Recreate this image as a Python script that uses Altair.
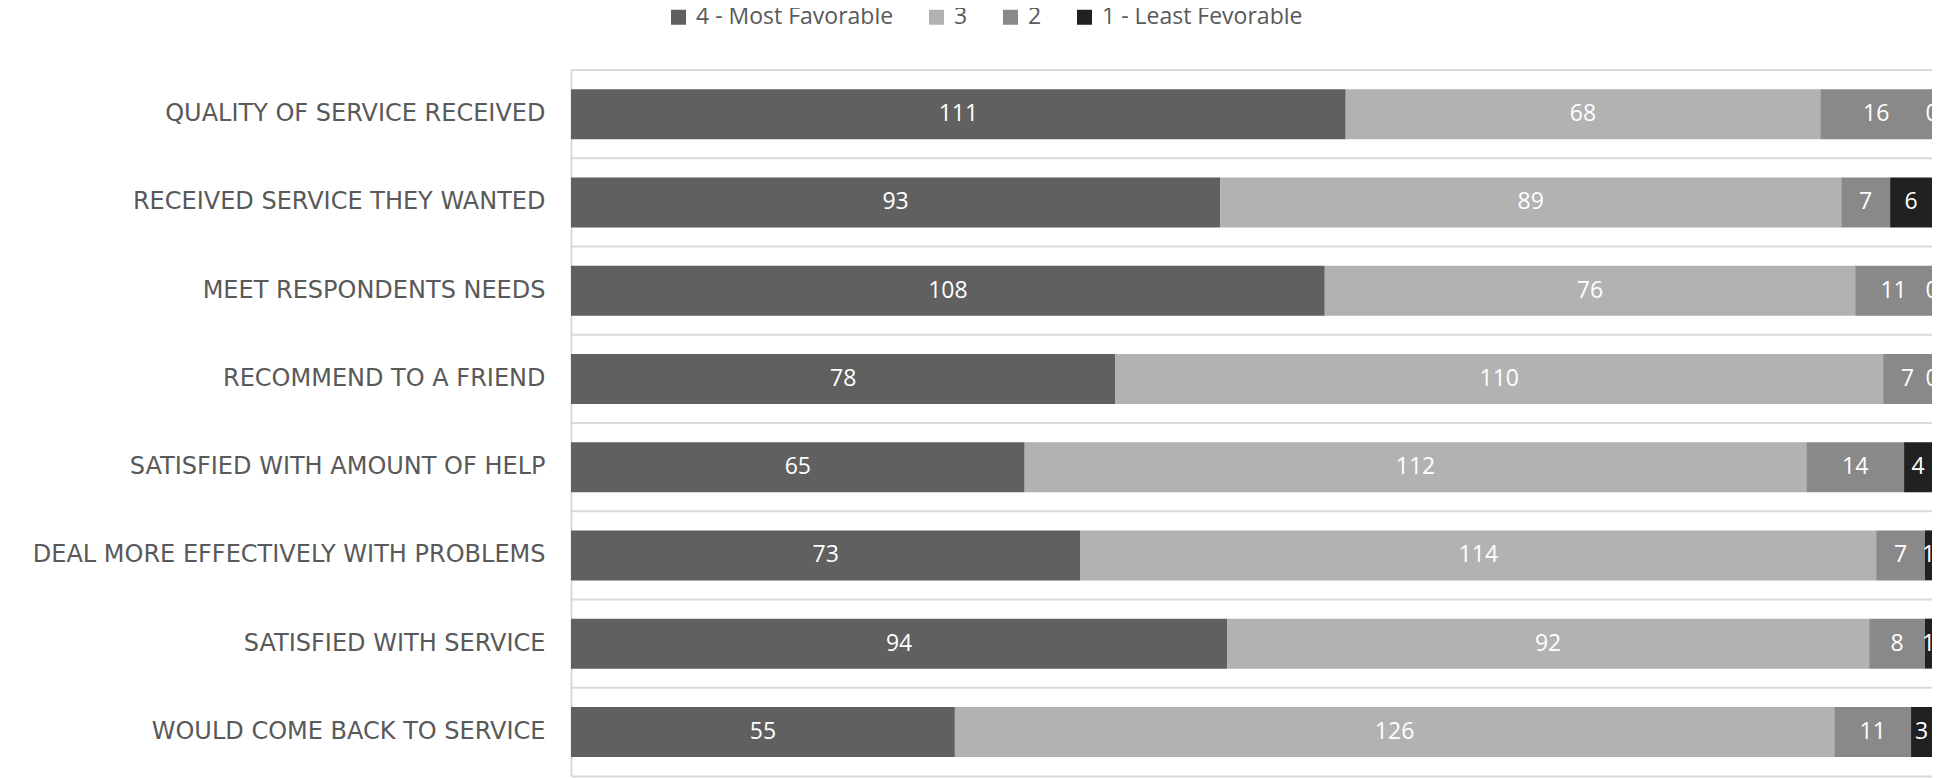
import altair as alt
import pandas as pd

items = [
    "QUALITY OF SERVICE RECEIVED",
    "RECEIVED SERVICE THEY WANTED",
    "MEET RESPONDENTS NEEDS",
    "RECOMMEND TO A FRIEND",
    "SATISFIED WITH AMOUNT OF HELP",
    "DEAL MORE EFFECTIVELY WITH PROBLEMS",
    "SATISFIED WITH SERVICE",
    "WOULD COME BACK TO SERVICE",
]
levels = ["4 - Most Favorable", "3", "2", "1 - Least Fevorable"]
fav4 = [111, 93, 108, 78, 65, 73, 94, 55]
fav3 = [68, 89, 76, 110, 112, 114, 92, 126]
fav2 = [16, 7, 11, 7, 14, 7, 8, 11]
fav1 = [0, 6, 0, 0, 4, 1, 1, 3]
colors = ["#606060", "#b2b2b2", "#898989", "#212121"]

series = [fav4, fav3, fav2, fav1]
rows = []
for li, (lvl, vals) in enumerate(zip(levels, series)):
    for it, v in zip(items, vals):
        rows.append({"item": it, "level": lvl, "ord": li, "value": v})
df = pd.DataFrame(rows)

PLOT_W = 1361
PLOT_H = 706

base = alt.Chart(df).transform_stack(
    stack="value",
    groupby=["item"],
    sort=[alt.SortField("ord", order="ascending")],
    as_=["x0", "x1"],
).transform_calculate(xm="(datum.x0 + datum.x1) / 2")

yenc = alt.Y(
    "item:N",
    sort=items,
    scale=alt.Scale(paddingInner=0, paddingOuter=0),
    axis=alt.Axis(
        title=None,
        domain=True,
        domainColor="#d9d9d9",
        domainWidth=2,
        ticks=False,
        grid=False,
        labelPadding=26,
        labelFont="DejaVu Sans",
        labelFontSize=24,
        labelColor="#595959",
        labelLimit=0,
    ),
)

bars = base.mark_bar(size=50).encode(
    x=alt.X(
        "x0:Q",
        scale=alt.Scale(domain=[0, 195], nice=False, zero=True),
        axis=alt.Axis(
            title=None,
            labels=False,
            ticks=False,
            grid=False,
            domain=True,
            domainColor="#d9d9d9",
            domainWidth=2,
        ),
    ),
    x2="x1:Q",
    y=yenc,
    color=alt.Color(
        "level:N",
        scale=alt.Scale(domain=levels, range=colors),
        legend=alt.Legend(
            title=None,
            orient="none",
            legendX=96,
            legendY=-64.5,
            direction="horizontal",
            symbolType="square",
            symbolSize=225,
            symbolStrokeWidth=0,
            labelFont="Open Sans",
            labelFontSize=23,
            labelColor="#595959",
            labelLimit=0,
            columnPadding=31,
            labelOffset=6,
            padding=0,
        ),
    ),
)

labels = base.mark_text(color="white", fontSize=23, font="Open Sans").encode(
    x="xm:Q",
    y=alt.Y("item:N", sort=items),
    text="value:Q",
)

rules = alt.Chart(pd.DataFrame({"item": items})).mark_rule(
    color="#d9d9d9", strokeWidth=2
).encode(
    y=alt.Y("item:N", sort=items, bandPosition=0),
    x=alt.value(0),
    x2=alt.value(PLOT_W),
)

chart = alt.layer(rules, bars, labels).properties(
    width=PLOT_W,
    height=PLOT_H,
    autosize=alt.AutoSizeParams(type="none"),
    padding={"left": 563, "top": 62, "right": 0, "bottom": 2},
    background="white",
).configure_view(stroke=None)

chart.save("out.html", embed_options={"renderer": "svg", "actions": False})
